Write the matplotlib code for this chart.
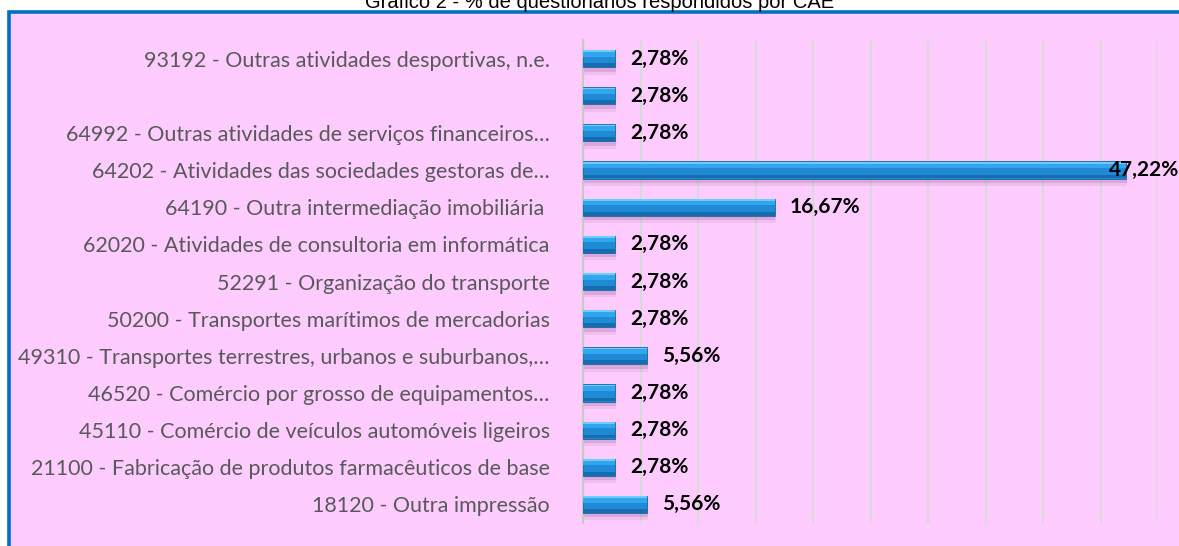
import matplotlib
matplotlib.use("Agg")
import matplotlib.pyplot as plt
from matplotlib.patches import Rectangle
import matplotlib.transforms as mtransforms

categories = [
    "93192 - Outras atividades desportivas, n.e.",
    "",
    "64992 - Outras atividades de serviços financeiros…",
    "64202 - Atividades das sociedades gestoras de…",
    "64190 - Outra intermediação imobiliária ",
    "62020 - Atividades de consultoria em informática",
    "52291 - Organização do transporte",
    "50200 - Transportes marítimos de mercadorias",
    "49310 - Transportes terrestres, urbanos e suburbanos,…",
    "46520 - Comércio por grosso de equipamentos…",
    "45110 - Comércio de veículos automóveis ligeiros",
    "21100 - Fabricação de produtos farmacêuticos de base",
    "18120 - Outra impressão",
]
values = [2.78, 2.78, 2.78, 47.22, 16.67, 2.78, 2.78, 2.78, 5.56, 2.78, 2.78, 2.78, 5.56]
title = "Gráfico 2 - % de questionários respondidos por CAE"

W, H = 1179, 546
fig = plt.figure(figsize=(W / 100, H / 100), dpi=100)
fig.patch.set_facecolor("white")

pink = "#FFCCFF"
frame = Rectangle((8.5 / W, -0.05), 1.2, 1 - 11.5 / H + 0.05, transform=fig.transFigure,
                  facecolor=pink, edgecolor="#0070C0", linewidth=2.6, zorder=-5)
fig.patches.append(frame)

fig.text(600 / W, 1 - 8 / H, title, ha="center", va="baseline",
         fontsize=14.5, family="Liberation Sans", color="black")

ax = fig.add_axes([583 / W, 23 / H, (1158 - 583) / W, (523 - 40) / H])
ax.set_zorder(2)
ax.set_facecolor("none")
y = list(range(len(categories)))
bh = 0.46

# soft shadow below bars
ax.barh([v + 0.20 for v in y], values, height=bh, left=0.1, color="#8a5a8a", alpha=0.12,
        linewidth=0, zorder=2)
ax.barh([v + 0.12 for v in y], values, height=bh, left=0.05, color="#8a5a8a", alpha=0.22,
        linewidth=0, zorder=2)
# main bar body
ax.barh(y, values, height=bh, color="#1f8ad6", edgecolor="#1a67a8", linewidth=0.6, zorder=3)
# upper bright band
ax.barh([v - bh * 0.26 for v in y], values, height=bh * 0.30, color="#33a5ec",
        linewidth=0, zorder=4)
# top highlight line
ax.barh([v - bh * 0.43 for v in y], values, height=bh * 0.10, color="#6ccdf8",
        linewidth=0, zorder=4)
# bottom darker band
ax.barh([v + bh * 0.38 for v in y], values, height=bh * 0.22, color="#176cb0",
        linewidth=0, zorder=4)

ax.set_xlim(0, 50)
ax.set_ylim(len(categories) - 0.5, -0.5)
ax.set_xticks(range(0, 51, 5))
ax.xaxis.grid(True, color="#D9D9D9", linewidth=1.6, zorder=0)
ax.set_axisbelow(True)
ax.tick_params(axis="x", length=0, labelbottom=False)
ax.tick_params(axis="y", length=0, pad=24)
ax.set_yticks(y)
ax.set_yticklabels(categories, fontsize=15.5, family="Lato", color="#595959")
for s in ["top", "right", "bottom"]:
    ax.spines[s].set_visible(False)
ax.spines["left"].set_color("#C8C8C8")
ax.spines["left"].set_linewidth(1.6)

renderer = fig.canvas.get_renderer()
for yi, v in zip(y, values):
    txt = f"{v:.2f}".replace(".", ",") + "%"
    t = ax.text(v + 1.3, yi, txt, ha="left", va="center", fontsize=15,
                fontweight="bold", family="Lato", color="black", zorder=6)
    bb = t.get_window_extent(renderer=renderer)
    if bb.x1 > W:
        trans = mtransforms.blended_transform_factory(fig.transFigure, ax.transData)
        t.set_transform(trans)
        t.set_position((1.0, yi))
        t.set_ha("right")

fig.savefig("out.png", dpi=100, facecolor=fig.get_facecolor())
